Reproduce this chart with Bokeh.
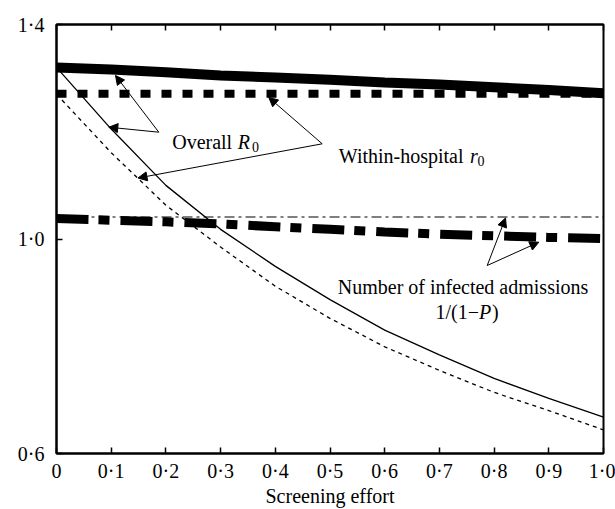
from bokeh.plotting import figure
from bokeh.models import Range1d, FixedTicker, LinearAxis, Label, Arrow, NormalHead
from bokeh.embed import file_html
from bokeh.resources import INLINE

# ---------------- data ----------------
effort = [0.0, 0.1, 0.2, 0.3, 0.4, 0.5, 0.6, 0.7, 0.8, 0.9, 1.0]
overall_R0_thick = [1.320, 1.316, 1.311, 1.305, 1.301, 1.297, 1.292, 1.288, 1.283, 1.278, 1.272]
within_r0_thick = [1.271, 1.271, 1.271, 1.271, 1.271, 1.271, 1.271, 1.271, 1.271, 1.271, 1.271]
overall_R0_thin = [1.320, 1.205, 1.100, 1.018, 0.949, 0.887, 0.830, 0.784, 0.740, 0.703, 0.668]
within_r0_thin = [1.270, 1.161, 1.063, 0.985, 0.912, 0.852, 0.799, 0.755, 0.714, 0.680, 0.644]
infected_thin = [1.041, 1.041, 1.041, 1.041, 1.041, 1.041, 1.041, 1.041, 1.041, 1.041, 1.041]
infected_thick = [1.038, 1.035, 1.032, 1.028, 1.023, 1.018, 1.013, 1.009, 1.006, 1.003, 1.001]

x_ticks = [0, 0.1, 0.2, 0.3, 0.4, 0.5, 0.6, 0.7, 0.8, 0.9, 1.0]
x_tick_labels = ["0", "0·1", "0·2", "0·3", "0·4", "0·5", "0·6", "0·7", "0·8", "0·9", "1·0"]
y_ticks = [0.6, 1.0, 1.4]
y_tick_labels = ["0·6", "1·0", "1·4"]
x_label = "Screening effort"

FONT = "Liberation Serif"
FS = "20px"

# ---------------- figure ----------------
p = figure(width=615, height=509, output_backend="svg", toolbar_location=None,
           x_range=Range1d(0, 1), y_range=Range1d(0.6, 1.4),
           min_border_left=56, min_border_right=12, min_border_top=24, min_border_bottom=56,
           background_fill_color="white", border_fill_color="white")
p.grid.visible = False
p.outline_line_color = "black"
p.outline_line_width = 2

for ax, ticks, labels in ((p.xaxis[0], x_ticks, x_tick_labels), (p.yaxis[0], y_ticks, y_tick_labels)):
    ax.ticker = FixedTicker(ticks=ticks)
    ax.major_label_overrides = {t: l for t, l in zip(ticks, labels)}
    ax.major_tick_in = 6
    ax.major_tick_out = 0
    ax.minor_tick_line_color = None
    ax.axis_line_width = 2
    ax.major_tick_line_width = 1.5
    ax.major_label_text_font = FONT
    ax.major_label_text_font_size = FS
    ax.major_label_text_color = "black"
p.xaxis[0].major_label_standoff = 6
p.yaxis[0].major_label_standoff = 12

xa = p.xaxis[0]
xa.axis_label = x_label
xa.axis_label_text_font = FONT
xa.axis_label_text_font_size = FS
xa.axis_label_text_font_style = "normal"
xa.axis_label_text_color = "black"
xa.axis_label_standoff = 0

top = LinearAxis(ticker=FixedTicker(ticks=x_ticks), major_tick_in=6, major_tick_out=0,
                 minor_tick_line_color=None, axis_line_width=2, major_tick_line_width=1.5,
                 major_label_text_color=None, major_label_text_font_size="1px",
                 major_label_standoff=0)
p.add_layout(top, "above")

# ---------------- curves ----------------
p.line(effort, overall_R0_thick, line_width=10, color="black")
p.line(effort, within_r0_thick, line_width=8, color="black", line_dash="10 11")
p.line(effort, overall_R0_thin, line_width=1.3, color="black")
p.line(effort, within_r0_thin, line_width=1.3, color="black", line_dash="4 4")
p.line(effort, infected_thin, line_width=1.2, color="black", line_dash="10 4 3 4")
p.line(effort, infected_thick, line_width=9, color="black", line_dash="32 10 11 11")

# ---------------- annotations (pixel helpers) ----------------
def dx(px):
    return (px - 56) / 547.0

def dy(py):
    return 1.4 - (py - 24) / 429.0 * 0.8

def txt(px, py, s, size=FS, style="normal", align="left"):
    p.add_layout(Label(x=dx(px), y=dy(py), text=s, text_font=FONT, text_font_size=size,
                       text_font_style=style, text_align=align, text_baseline="alphabetic",
                       text_color="black"))

def arrow(x0, y0, x1, y1):
    p.add_layout(Arrow(end=NormalHead(size=9, fill_color="black", line_color="black", line_width=1),
                       x_start=dx(x0), y_start=dy(y0), x_end=dx(x1), y_end=dy(y1),
                       line_width=1, line_color="black"))

txt(171.7, 141.7, "Overall")
txt(237.3, 141.7, "R", style="italic")
txt(251.5, 146.5, "0", size="14px")

txt(338.3, 155, "Within-hospital")
txt(469.5, 155, "r", style="italic")
txt(477.0, 160, "0", size="14px")

txt(462.5, 286.7, "Number of infected admissions", align="center")
txt(435, 311.7, "1/(1−")
txt(478.5, 311.7, "P", style="italic")
txt(491.5, 311.7, ")")

arrow(158.3, 131.7, 115, 75)
arrow(158.3, 131.7, 108.3, 126.7)
arrow(321.7, 143.3, 268.3, 97)
arrow(321.7, 143.3, 137.5, 177.5)
arrow(486.7, 265, 505, 217.5)
arrow(486.7, 265, 538.3, 241.7)

open("out.html", "w").write(file_html(p, INLINE))
